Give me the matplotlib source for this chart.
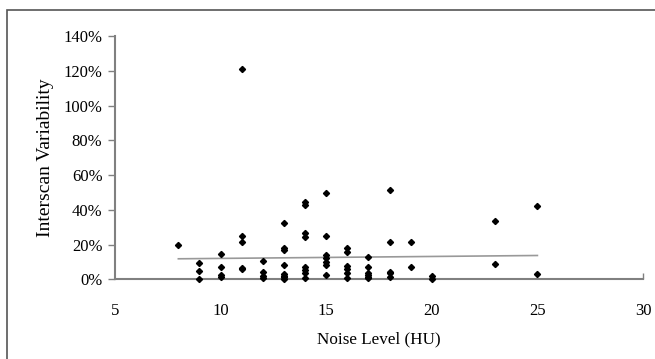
""" Interscan variability vs noise level scatter """

import matplotlib.pyplot as plt
from matplotlib import patches
from matplotlib.ticker import FuncFormatter

# Noise level (HU) for each measurement
noise = [8,
         9, 9, 9,
         10, 10, 10, 10,
         11, 11, 11, 11, 11,
         12, 12, 12, 12,
         13, 13, 13, 13, 13, 13, 13, 13,
         14, 14, 14, 14, 14, 14, 14, 14,
         15, 15, 15, 15, 15, 15, 15,
         16, 16, 16, 16, 16, 16,
         17, 17, 17, 17, 17, 17,
         18, 18, 18, 18, 18,
         19, 19,
         20, 20,
         23, 23,
         25, 25]

# Interscan variability (%)
variability = [19.5,
               9.6, 4.8, 0.0,
               14.7, 7.1, 2.5, 1.2,
               121.0, 24.7, 21.6, 6.5, 5.7,
               10.5, 4.4, 1.9, 0.5,
               32.2, 18.0, 16.9, 8.4, 3.0, 1.9, 1.2, 0.4,
               44.7, 42.7, 26.5, 24.5, 7.3, 5.4, 3.5, 0.6,
               49.5, 24.9, 14.0, 12.1, 10.1, 8.2, 2.5,
               17.8, 15.9, 7.7, 5.8, 3.8, 0.6,
               12.7, 6.9, 3.8, 2.5, 1.5, 0.6,
               51.4, 21.6, 4.4, 3.5, 1.5,
               21.6, 7.1,
               1.9, 0.0,
               33.5, 9.0,
               42.2, 2.9]

# Linear trend line
trend_x = [8, 25]
trend_y = [11.8, 13.7]

x_ticks = [5, 10, 15, 20, 25, 30]
y_ticks = [0, 20, 40, 60, 80, 100, 120, 140]

plt.rcParams['font.family'] = ['Liberation Serif', 'DejaVu Serif']

fig = plt.figure(figsize=(6.55, 3.59), dpi=100)
# outer frame (only top/left edges visible in the original)
fig.patches.append(patches.Rectangle((7 / 655, -0.1), 1.2, 1 - 10 / 359 + 0.1,
                                     transform=fig.transFigure, fill=False,
                                     edgecolor='#555555', linewidth=1.2))

ax = fig.add_axes([115 / 655, 1 - 279.3 / 359, (643 - 115) / 655, (279.3 - 36) / 359])
ax.plot(noise, variability, linestyle='none', marker='D', markersize=3.1,
        color='black', clip_on=False, zorder=3)
ax.plot(trend_x, trend_y, color='#999999', linewidth=1.2, zorder=2)

ax.set_xlim(5, 30)
ax.set_ylim(0, 140)
ax.set_xticks(x_ticks)
ax.set_yticks(y_ticks)
ax.yaxis.set_major_formatter(FuncFormatter(lambda v, _: f'{v:.0f}%'))

for side in ('top', 'right'):
    ax.spines[side].set_visible(False)
for side in ('left', 'bottom'):
    ax.spines[side].set_color('#808080')
    ax.spines[side].set_linewidth(1.5)

ax.tick_params(axis='y', direction='out', length=5, width=1, color='#808080',
               labelsize=12, pad=4)
ax.tick_params(axis='x', direction='in', length=4, width=1, color='#808080',
               labelsize=12, pad=17)
# only the end of the x axis carries a small tick
for t in ax.xaxis.get_major_ticks()[:-1]:
    t.tick1line.set_visible(False)

ax.set_xlabel('Noise Level (HU)', fontsize=12.3, labelpad=9)
ax.set_ylabel('Interscan Variability', fontsize=14, labelpad=7)

plt.savefig('out.png', dpi=100)
